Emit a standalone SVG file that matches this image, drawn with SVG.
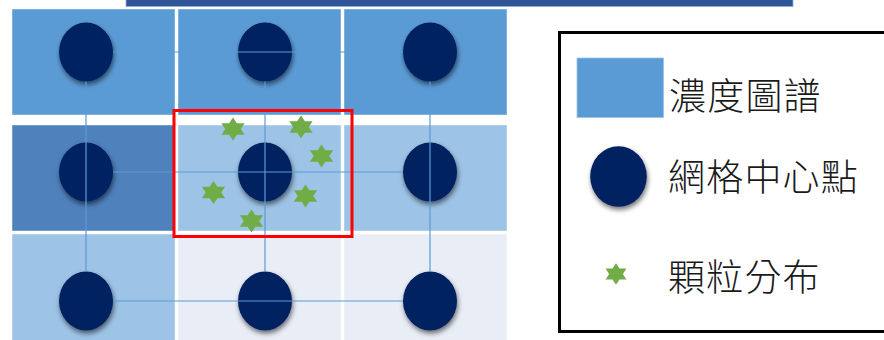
<svg xmlns="http://www.w3.org/2000/svg" width="884" height="340" viewBox="0 0 884 340">
<style>
.cell{stroke:#FFFFFF;stroke-opacity:0.45;stroke-width:1}
.c1{fill:#5B9BD5}.c2{fill:#4F81BD}.c3{fill:#9DC3E6}.c4{fill:#E9EDF6}
.dot{fill:#002060;filter:url(#sh)}
.ln{stroke:#5B9BD5;stroke-width:1.2;fill:none}
.star{fill:#70AD47}
.lbl{font-family:"Noto Sans CJK TC","Noto Sans CJK SC",sans-serif;font-size:37px;font-weight:300;letter-spacing:1.2px;fill:#1A1A1A}
</style>
<defs>
<filter id="sh" x="-40%" y="-40%" width="180%" height="190%">
<feDropShadow dx="1" dy="3" stdDeviation="2.5" flood-color="#000" flood-opacity="0.55"/>
</filter>
<path id="hx" d="M0,-12 L3.46,-6 L10.39,-6 L6.93,0 L10.39,6 L3.46,6 L0,12 L-3.46,6 L-10.39,6 L-6.93,0 L-10.39,-6 L-3.46,-6 Z"/>
</defs>
<rect x="0" y="0" width="884" height="340" fill="#FFFFFF"/>
<rect id="topbar" x="126" y="-1" width="667" height="7.5" fill="#2F5597" stroke="#8FAADC" stroke-width="0.8"/>
<g id="cells">
<rect class="cell c1" x="12" y="9" width="163" height="106"/>
<rect class="cell c1" x="178" y="9" width="163" height="106"/>
<rect class="cell c1" x="344" y="9" width="163" height="106"/>
<rect class="cell c2" x="12" y="125" width="163" height="106"/>
<rect class="cell c3" x="178" y="125" width="163" height="106"/>
<rect class="cell c3" x="344" y="125" width="163" height="106"/>
<rect class="cell c3" x="12" y="234" width="163" height="110"/>
<rect class="cell c4" x="178" y="234" width="163" height="110"/>
<rect class="cell c4" x="344" y="234" width="163" height="110"/>
</g>
<g id="centers">
<ellipse id="n11" class="dot" cx="86" cy="52" rx="27" ry="29.5"/>
<ellipse id="n12" class="dot" cx="265" cy="52" rx="27" ry="29.5"/>
<ellipse id="n13" class="dot" cx="430" cy="52" rx="27" ry="29.5"/>
<ellipse id="n21" class="dot" cx="86" cy="172" rx="27" ry="29.5"/>
<ellipse id="n22" class="dot" cx="265" cy="172" rx="27" ry="29.5"/>
<ellipse id="n23" class="dot" cx="430" cy="172" rx="27" ry="29.5"/>
<ellipse id="n31" class="dot" cx="86" cy="301" rx="27" ry="29.5"/>
<ellipse id="n32" class="dot" cx="265" cy="301" rx="27" ry="29.5"/>
<ellipse id="n33" class="dot" cx="430" cy="301" rx="27" ry="29.5"/>
</g>
<g id="connectors">
<line class="ln" x1="113" y1="52" x2="403" y2="52"/>
<line class="ln" x1="113" y1="172" x2="403" y2="172"/>
<line class="ln" x1="113" y1="301" x2="403" y2="301"/>
<line class="ln" x1="86" y1="81.5" x2="86" y2="271.5"/>
<line class="ln" x1="265" y1="81.5" x2="265" y2="271.5"/>
<line class="ln" x1="430" y1="81.5" x2="430" y2="271.5"/>
</g>
<g id="highlight">
<rect x="174" y="110.5" width="178" height="126" fill="none" stroke="#FF0000" stroke-width="3"/>
</g>
<g id="particles">
<use href="#hx" class="star" transform="translate(233,129) scale(1.12,0.96)"/>
<use href="#hx" class="star" transform="translate(301,127) scale(1.12,0.96)"/>
<use href="#hx" class="star" transform="translate(321.5,156) scale(1.12,0.96)"/>
<use href="#hx" class="star" transform="translate(213.5,192.5) scale(1.12,0.96)"/>
<use href="#hx" class="star" transform="translate(305.5,196) scale(1.12,0.96)"/>
<use href="#hx" class="star" transform="translate(251.5,221) scale(1.12,0.96)"/>
</g>
<g id="legend">
<rect x="559.5" y="32.5" width="340" height="299" fill="#FFFFFF" stroke="#000000" stroke-width="3"/>
<g id="legend-map">
<rect x="577" y="58" width="86.5" height="59.5" fill="#5B9BD5" stroke="#9DC3E6" stroke-width="0.8"/>
<text class="lbl" x="669" y="110">濃度圖譜</text>
</g>
<g id="legend-center">
<ellipse class="dot" cx="618.5" cy="176.5" rx="28.3" ry="30.3"/>
<text class="lbl" x="668" y="191">網格中心點</text>
</g>
<g id="legend-particle">
<use href="#hx" class="star" transform="translate(616,274) scale(1.0,0.9)"/>
<text class="lbl" x="668" y="291">顆粒分布</text>
</g>
</g>
</svg>
